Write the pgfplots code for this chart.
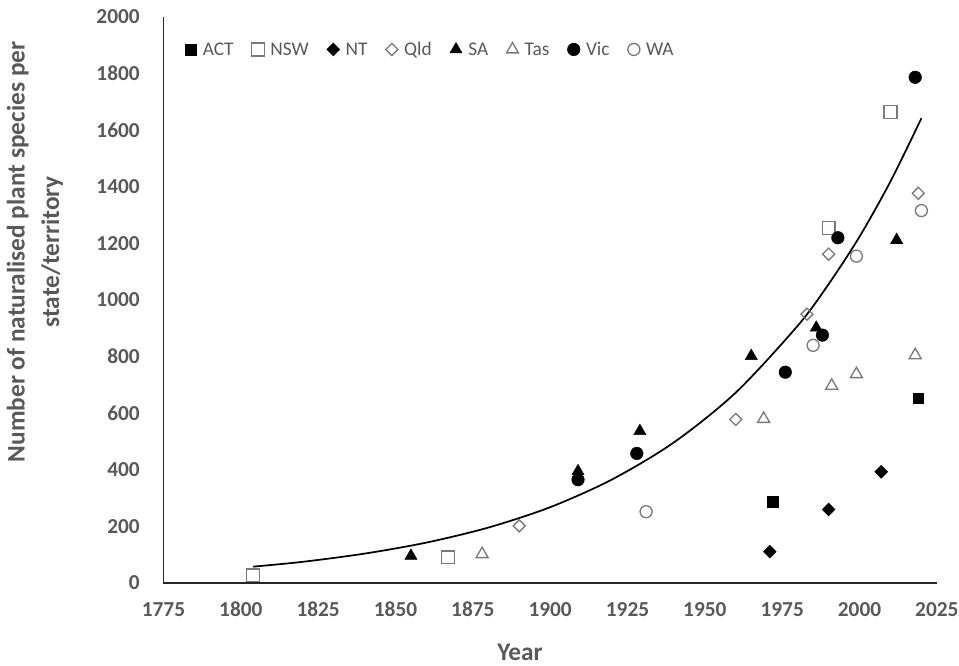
\documentclass[border=0pt]{standalone}
\usepackage{pgfplots}
\pgfplotsset{compat=1.18}
\usepackage{fontspec}
\setmainfont{Carlito}
\definecolor{txt}{HTML}{595959}
\definecolor{mg}{HTML}{7A7A7A}
\begin{document}
\begin{tikzpicture}
\useasboundingbox (-122.6pt,-61.5pt) rectangle (596.6pt,437.25pt);
\begin{axis}[
  at={(0,0)}, anchor=south west,
  scale only axis, width=580pt, height=424.5pt,
  xmin=1775, xmax=2025, ymin=0, ymax=2000,
  xtick distance=25, ytick distance=200,
  axis x line=bottom, axis y line=left,
  axis line style={-, line width=1.2pt, black!85},
  major tick length=0pt,
  /pgf/number format/1000 sep={},
  /pgf/number format/assume math mode=true,
  ticklabel style={font=\bfseries\fontsize{16}{19}\selectfont, text=txt, inner sep=0pt},
  xticklabel style={anchor=base, yshift=-24.75pt},
  yticklabel style={anchor=east, xshift=-17.6pt},
  xlabel={Year},
  ylabel={Number of naturalised plant species per\\state/territory},
  label style={font=\bfseries\fontsize{19}{26}\selectfont, text=txt},
  xlabel style={at={(axis description cs:0.461,-0.136)}, anchor=base},
  ylabel style={at={(axis description cs:-0.1662,0.585)}, anchor=center, align=center},
  legend columns=-1,
  legend image code/.code={\path (-4.5pt,0pt) (4.5pt,9pt); \draw[#1] plot coordinates {(0pt,4.7pt)};},
  legend style={at={(rel axis cs:0.0265,0.9417)}, anchor=west, draw=none, fill=none,
    inner sep=0pt, font=\fontsize{14.5}{17}\selectfont, text=txt,
    /tikz/every odd column/.style={column sep=4.5pt},
    /tikz/every even column/.style={column sep=13.5pt},
    nodes={inner sep=0pt, anchor=base west}},
]
% ACT
\addplot[only marks, mark=square*, mark size=4pt, black] coordinates {(1972,287) (2019,653)};
\addlegendentry{ACT}
% NSW
\addplot[only marks, mark=square, mark size=4.8pt, mark options={draw=mg, fill=white, line width=1pt}] coordinates {(1804,27) (1867,91) (1990,1255) (2010,1665)};
\addlegendentry{NSW}
% NT
\addplot[only marks, mark=square*, mark size=3.4pt, mark options={rotate=45, black}] coordinates {(1971,111) (1990,260) (2007,393)};
\addlegendentry{NT}
% Qld
\addplot[only marks, mark=square, mark size=3.2pt, mark options={rotate=45, draw=mg, fill=white, line width=1pt}] coordinates {(1890,202) (1960,578) (1983,950) (1990,1162) (2019,1377)};
\addlegendentry{Qld}
% SA
\addplot[only marks, mark=triangle*, mark size=5.2pt, black] coordinates {(1855,96) (1909,395) (1929,537) (1965,802) (1986,902) (2012,1212)};
\addlegendentry{SA}
% Tas
\addplot[only marks, mark=triangle, mark size=5.2pt, mark options={draw=mg, fill=white, line width=1pt}] coordinates {(1878,102) (1969,580) (1991,697) (1999,738) (2018,805)};
\addlegendentry{Tas}
% Vic
\addplot[only marks, mark=*, mark size=4.7pt, black] coordinates {(1909,365) (1928,458) (1976,745) (1988,876) (1993,1220) (2018,1787)};
\addlegendentry{Vic}
% WA
\addplot[only marks, mark=o, mark size=4.5pt, mark options={draw=mg, fill=white, line width=1pt}] coordinates {(1931,252) (1985,840) (1999,1155) (2020,1316)};
\addlegendentry{WA}
% trend line
\addplot[smooth, black, line width=1.3pt, forget plot] coordinates {
(1804,58) (1820,75) (1840,104) (1860,143) (1880,196) (1900,268) (1920,366)
(1940,497) (1960,673) (1980,909) (1990,1056) (2000,1224) (2010,1419) (2020,1642)};
\end{axis}
\end{tikzpicture}
\end{document}
